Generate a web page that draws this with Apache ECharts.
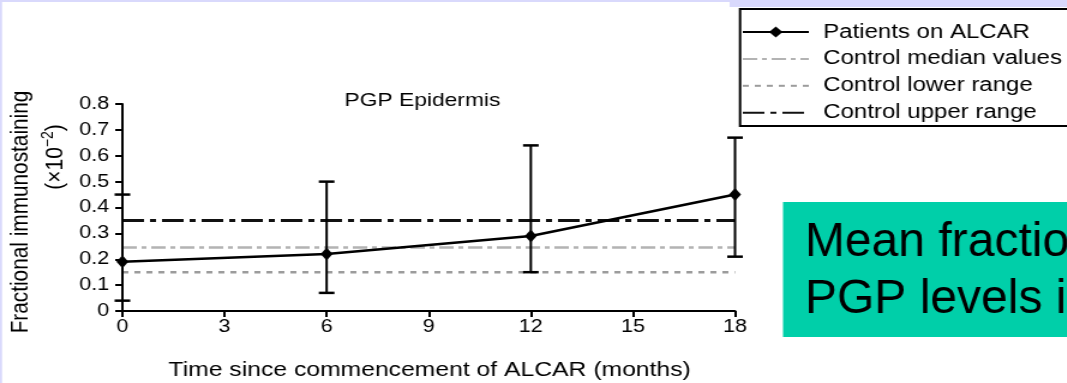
<!DOCTYPE html>
<html><head><meta charset="utf-8">
<script src="https://cdn.jsdelivr.net/npm/echarts@6/dist/echarts.min.js"></script>
<style>
html,body{margin:0;padding:0;background:#fff;overflow:hidden;}
#wrap{width:1067px;height:383px;overflow:hidden;position:relative;}
#chart{width:890px;height:383px;transform:scaleX(1.2);transform-origin:0 0;}
</style></head><body><div id="wrap"><div id="chart"></div></div>
<script>
// ---- data ----
const months = [0, 6, 12, 18];
const meanValues = [0.19, 0.22, 0.29, 0.45];
const errLow = [0.04, 0.07, 0.15, 0.21];
const errHigh = [0.45, 0.50, 0.64, 0.67];
const controlMedian = 0.245;
const controlLower = 0.15;
const controlUpper = 0.35;
const seriesNames = ['Patients on ALCAR', 'Control median values', 'Control lower range', 'Control upper range'];
const chartTitle = 'PGP Epidermis';
const xName = 'Time since commencement of ALCAR (months)';
const yName1 = 'Fractional immunostaining';
const slideLines = ['Mean fractional', 'PGP levels in'];

const FONT = '"Liberation Sans", Arial, sans-serif';
const S = 1.2; // horizontal stretch of the figure
const chart = echarts.init(document.getElementById('chart'), null, {renderer: 'canvas'});

const hLine = (v) => [[months[0], v], [months[months.length - 1], v]];

const option = {
  animation: false,
  backgroundColor: '#ffffff',
  grid: {left: 102, right: 277.5, top: 104, bottom: 72, containLabel: false},
  xAxis: {
    type: 'value', min: 0, max: 18, interval: 3,
    axisLine: {show: true, lineStyle: {color: '#000', width: 2}},
    axisTick: {show: true, length: 6, lineStyle: {color: '#000', width: 2}},
    axisLabel: {color: '#000', fontSize: 18, fontFamily: FONT, margin: 7},
    splitLine: {show: false}
  },
  yAxis: {
    type: 'value', min: 0, max: 0.8, interval: 0.1,
    axisLine: {show: true, lineStyle: {color: '#000', width: 2}},
    axisTick: {show: true, length: 6, lineStyle: {color: '#000', width: 2}},
    axisLabel: {color: '#000', fontSize: 18, fontFamily: FONT, margin: 11,
      formatter: v => (v === 0 ? '0' : v.toFixed(1))},
    splitLine: {show: false}
  },
  legend: {
    orient: 'vertical', left: 618, top: 22, padding: 0,
    itemWidth: 55, itemHeight: 14, itemGap: 6.9,
    selectedMode: false,
    data: [
      {name: seriesNames[0]},
      {name: seriesNames[1], itemStyle: {opacity: 0}},
      {name: seriesNames[2], itemStyle: {opacity: 0}},
      {name: seriesNames[3], itemStyle: {opacity: 0}}
    ],
    textStyle: {fontSize: 20, fontFamily: FONT, color: '#000', padding: [0, 0, 0, 7]}
  },
  graphic: [
    {type: 'rect', z: -10, silent: true, shape: {x: 0, y: 0, width: 1.7, height: 383}, style: {fill: '#d9d9fc'}},
    {type: 'rect', z: -10, silent: true, shape: {x: 0, y: 0, width: 608, height: 2}, style: {fill: '#d9d9fc'}},
    {type: 'rect', z: -10, silent: true, shape: {x: 608, y: 0, width: 300, height: 7}, style: {fill: '#d9d9fc'}},
    {type: 'rect', z: 0, silent: true, shape: {x: 616.7, y: 9, width: 300, height: 117},
      style: {fill: '#fff', stroke: '#000', lineWidth: 2}},
    {type: 'rect', z: 0, silent: true, shape: {x: 652.5, y: 202, width: 300, height: 135}, style: {fill: '#00cfa9'}},
    {type: 'text', z: 1, x: 670.8, y: 243, scaleX: 1 / S,
      style: {text: slideLines[0], font: '48px ' + FONT, fill: '#000', textAlign: 'left', textVerticalAlign: 'middle'}},
    {type: 'text', z: 1, x: 670.8, y: 300, scaleX: 1 / S,
      style: {text: slideLines[1], font: '48px ' + FONT, fill: '#000', textAlign: 'left', textVerticalAlign: 'middle'}},
    {type: 'text', z: 1, x: 352, y: 101,
      style: {text: chartTitle, font: '19px ' + FONT, fill: '#000', textAlign: 'center', textVerticalAlign: 'middle'}},
    {type: 'text', z: 1, x: 358, y: 370,
      style: {text: xName, font: '20.6px ' + FONT, fill: '#000', textAlign: 'center', textVerticalAlign: 'middle'}},
    {type: 'text', z: 1, x: 17, y: 212, rotation: Math.PI / 2,
      style: {text: yName1, font: '20.8px ' + FONT, fill: '#000', textAlign: 'center', textVerticalAlign: 'middle'}},
    {type: 'text', z: 1, x: 46, y: 157, rotation: Math.PI / 2,
      style: {text: '(×10{s|−2})', fill: '#000', textAlign: 'center', textVerticalAlign: 'middle',
        fontSize: 21, fontFamily: FONT, lineHeight: 26,
        rich: {s: {fontSize: 14, fontFamily: FONT, verticalAlign: 'top', lineHeight: 14, fill: '#000'}}}}
  ],
  series: [
    {
      name: seriesNames[1], type: 'line', symbol: 'none', silent: true, z: 2,
      data: hLine(controlMedian),
      lineStyle: {color: '#b3b3b3', width: 2.5, type: [12, 4, 4, 4]},
      itemStyle: {color: '#b3b3b3', opacity: 0}
    },
    {
      name: seriesNames[2], type: 'line', symbol: 'none', silent: true, z: 2,
      data: hLine(controlLower),
      lineStyle: {color: '#9c9c9c', width: 2.5, type: [5, 5]},
      itemStyle: {color: '#9c9c9c', opacity: 0}
    },
    {
      name: seriesNames[3], type: 'line', symbol: 'none', silent: true, z: 2,
      data: hLine(controlUpper),
      lineStyle: {color: '#111', width: 3, type: [18, 5, 5, 5]},
      itemStyle: {color: '#111', opacity: 0}
    },
    {
      name: 'error', type: 'custom', z: 3, silent: true,
      data: months.map((m, i) => [m, errLow[i], errHigh[i]]),
      encode: {x: 0, y: [1, 2]},
      renderItem: (params, api) => {
        const x = api.value(0);
        const lo = api.coord([x, api.value(1)]);
        const hi = api.coord([x, api.value(2)]);
        const hw = 6.5;
        const st = {stroke: '#000', lineWidth: 2};
        return {type: 'group', children: [
          {type: 'line', shape: {x1: lo[0], y1: lo[1], x2: hi[0], y2: hi[1]}, style: st},
          {type: 'line', shape: {x1: lo[0] - hw, y1: lo[1], x2: lo[0] + hw, y2: lo[1]}, style: {stroke: '#000', lineWidth: 2.5}},
          {type: 'line', shape: {x1: hi[0] - hw, y1: hi[1], x2: hi[0] + hw, y2: hi[1]}, style: {stroke: '#000', lineWidth: 2.5}}
        ]};
      }
    },
    {
      name: seriesNames[0], type: 'line', z: 4, silent: true,
      data: months.map((m, i) => [m, meanValues[i]]),
      symbol: 'diamond', symbolSize: [10, 13], showSymbol: true,
      lineStyle: {color: '#000', width: 2.5},
      itemStyle: {color: '#000'}
    }
  ]
};
chart.setOption(option);
</script>
</body></html>
